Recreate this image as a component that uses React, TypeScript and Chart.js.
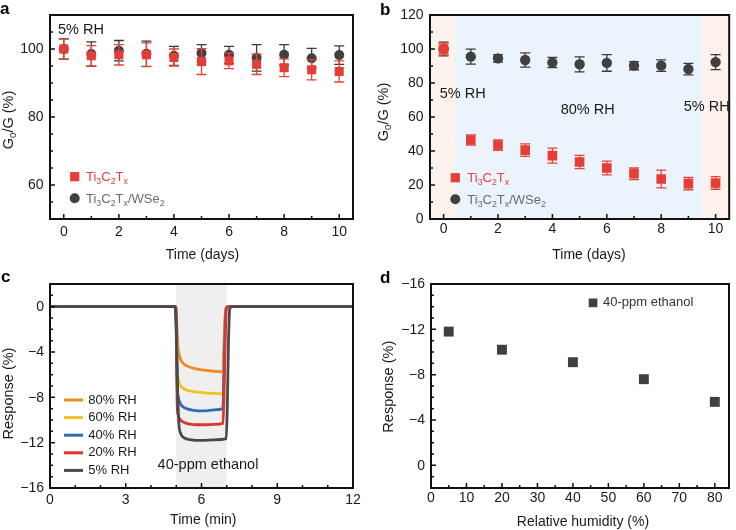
import React, { useEffect, useRef } from 'react';
import { Chart, registerables } from 'chart.js';

Chart.register(...registerables);

const FONT = '"Liberation Sans", Arial, Helvetica, sans-serif';
Chart.defaults.font.family = FONT;

// ---------- Panel a data (5% RH stability) ----------
const daysA = [0, 1, 2, 3, 4, 5, 6, 7, 8, 9, 10];
const tiA = [100, 98, 98.3, 98.3, 97.5, 96.3, 96.5, 95.5, 94.5, 93.9, 93.4];
const tiAErr = [3, 3, 3, 3.5, 2.5, 3.8, 2.3, 3, 2.6, 3, 3.1];
const wseA = [100, 98.5, 99.5, 98.6, 98, 98.8, 98.3, 97.4, 98.3, 97.3, 98.2];
const wseAErr = [3, 3.6, 3, 3.7, 2.8, 2.5, 2.5, 3.9, 3, 2.9, 2.7];

// ---------- Panel b data (80% RH stability) ----------
const daysB = [0, 1, 2, 3, 4, 5, 6, 7, 8, 9, 10];
const tiB = [100, 46.5, 43.5, 40.5, 37.3, 33.5, 30, 26.6, 23.5, 20.8, 21.2];
const tiBErr = [3.5, 3, 3.1, 3.7, 4.4, 3.9, 4.1, 3.4, 5.2, 3.6, 3.7];
const wseB = [100, 95.5, 94.5, 93.5, 92, 91, 91.8, 90.2, 90.2, 88.2, 92.3];
const wseBErr = [4, 4.4, 2.2, 4.2, 3, 4.4, 4.9, 2.4, 3.4, 3.4, 4.4];

// ---------- Panel c data (response traces, [time min, response %]) ----------
const trace80 = [[0, 0], [4.98, 0], [5.04, -2.5], [5.08, -3.8], [5.15, -4.5], [5.25, -4.95], [5.4, -5.2], [5.7, -5.45], [6.1, -5.6], [6.5, -5.7], [6.85, -5.75], [6.88, -4], [6.93, -1], [6.98, -0.1], [7.05, 0], [12, 0]];
const trace60 = [[0, 0], [4.98, 0], [5.04, -5.5], [5.08, -6.4], [5.15, -6.9], [5.25, -7.15], [5.4, -7.35], [5.7, -7.5], [6.1, -7.6], [6.5, -7.65], [6.85, -7.7], [6.88, -5.5], [6.93, -1.5], [6.98, -0.1], [7.05, 0], [12, 0]];
const trace40 = [[0, 0], [4.98, 0], [5.04, -7.2], [5.08, -8.0], [5.15, -8.5], [5.25, -8.8], [5.4, -9.0], [5.7, -9.15], [6.1, -9.2], [6.5, -9.1], [6.85, -9.0], [6.88, -6.5], [6.93, -2], [6.98, -0.1], [7.05, 0], [12, 0]];
const trace20 = [[0, 0], [4.98, 0], [5.04, -8.8], [5.08, -9.6], [5.15, -9.95], [5.25, -10.15], [5.4, -10.3], [5.7, -10.4], [6.1, -10.42], [6.5, -10.38], [6.85, -10.3], [6.9, -7], [6.95, -2], [7.0, -0.1], [7.07, 0], [12, 0]];
const trace5 = [[0, 0], [4.95, 0], [5.0, -2], [5.05, -7], [5.1, -10.2], [5.18, -11.2], [5.3, -11.55], [5.6, -11.75], [6.0, -11.8], [6.5, -11.75], [6.98, -11.65], [7.02, -9], [7.07, -3], [7.12, -0.2], [7.2, 0], [12, 0]];
const traceLabels = ['80% RH', '60% RH', '40% RH', '20% RH', '5% RH'];
const exposureWindow = [5, 7];

// ---------- Panel d data ----------
const humidity = [5, 20, 40, 60, 80];
const responseD = [-11.8, -10.2, -9.1, -7.6, -5.6];

// ---------- Tick values ----------
const ticksDaysMinor = [0, 1, 2, 3, 4, 5, 6, 7, 8, 9, 10];
const ticksDaysMajor = [0, 2, 4, 6, 8, 10];
const ticksAYMinor = [55, 60, 65, 70, 75, 80, 85, 90, 95, 100, 105];
const ticksAYMajor = [60, 80, 100];
const ticksBYMinor = [0, 10, 20, 30, 40, 50, 60, 70, 80, 90, 100, 110, 120];
const ticksBYMajor = [0, 20, 40, 60, 80, 100, 120];
const ticksCXMinor = [0, 1, 2, 3, 4, 5, 6, 7, 8, 9, 10, 11, 12];
const ticksCXMajor = [0, 3, 6, 9, 12];
const ticksRespMinor = [-16, -15, -14, -13, -12, -11, -10, -9, -8, -7, -6, -5, -4, -3, -2, -1, 0, 1];
const ticksRespMajor = [-16, -12, -8, -4, 0];
const ticksDXMinor = [0, 5, 10, 15, 20, 25, 30, 35, 40, 45, 50, 55, 60, 65, 70, 75, 80];
const ticksDXMajor = [0, 10, 20, 30, 40, 50, 60, 70, 80];

// ---------- Colours ----------
const RED = '#e53e36';
const GRAY = '#404040';
const C80 = '#ef8a1e';
const C60 = '#f2c124';
const C40 = '#2f6db5';
const C20 = '#e0352c';
const C5 = '#4a4a4a';
const TEXT = '#1a1a1a';

type Seg = { t: string; sub?: boolean };
const G0G: Seg[] = [{ t: 'G' }, { t: '0', sub: true }, { t: '/G (%)' }];
const TI: Seg[] = [{ t: 'Ti' }, { t: '3', sub: true }, { t: 'C' }, { t: '2', sub: true }, { t: 'T' }, { t: 'x', sub: true }];
const TIW: Seg[] = [...TI, { t: '/WSe' }, { t: '2', sub: true }];

function drawRich(ctx: CanvasRenderingContext2D, segs: Seg[], x: number, y: number, size: number, color: string, align: 'left' | 'center' | 'right', weight = '') {
  ctx.save();
  ctx.fillStyle = color;
  ctx.textBaseline = 'alphabetic';
  ctx.textAlign = 'left';
  const sub = size * 0.68;
  let w = 0;
  for (const s of segs) {
    ctx.font = `${weight} ${s.sub ? sub : size}px ${FONT}`;
    w += ctx.measureText(s.t).width;
  }
  let cx = align === 'center' ? x - w / 2 : align === 'right' ? x - w : x;
  const base = y + size * 0.36;
  for (const s of segs) {
    ctx.font = `${weight} ${s.sub ? sub : size}px ${FONT}`;
    ctx.fillText(s.t, cx, s.sub ? base + size * 0.22 : base);
    cx += ctx.measureText(s.t).width;
  }
  ctx.restore();
}

function drawRotated(ctx: CanvasRenderingContext2D, segs: Seg[], cx: number, cy: number, size: number) {
  ctx.save();
  ctx.translate(cx, cy);
  ctx.rotate(-Math.PI / 2);
  drawRich(ctx, segs, 0, 0, size, TEXT, 'center');
  ctx.restore();
}

const minus = (v: number) => (v < 0 ? '\u2212' + Math.abs(v) : String(v));

function axis(opts: { min: number; max: number; ticks: number[]; isX: boolean; size: number; reverse?: boolean }) {
  return {
    type: 'linear',
    min: opts.min,
    max: opts.max,
    reverse: !!opts.reverse,
    grid: { display: false },
    border: { display: false },
    title: { display: false },
    afterBuildTicks: (s: any) => {
      s.ticks = opts.ticks.map((v) => ({ value: v }));
    },
    afterFit: (s: any) => {
      if (opts.isX) s.height = opts.size;
      else s.width = opts.size;
    },
    ticks: { display: false, autoSkip: false },
  };
}

type ErrSpec = { x: number[]; y: number[]; e: number[]; color: string };

function decor(cfg: {
  xTicks: number[]; xMajor: number[]; yTicks: number[]; yMajor: number[];
  xLabelOffset: number; yLabelGap: number;
  bands?: { from: number; to: number; color: string }[];
  errors?: Record<number, ErrSpec>;
  extra?: (ctx: CanvasRenderingContext2D, chart: any) => void;
}) {
  return {
    id: 'decor',
    beforeDatasetsDraw(chart: any) {
      if (!cfg.bands) return;
      const { ctx, chartArea: a } = chart;
      const xs = chart.scales.x;
      ctx.save();
      ctx.beginPath();
      ctx.rect(a.left, a.top, a.right - a.left, a.bottom - a.top);
      ctx.clip();
      for (const b of cfg.bands) {
        const x1 = Math.max(a.left, xs.getPixelForValue(b.from));
        const x2 = Math.min(a.right, xs.getPixelForValue(b.to));
        ctx.fillStyle = b.color;
        ctx.fillRect(x1, a.top, x2 - x1, a.bottom - a.top);
      }
      ctx.restore();
    },
    beforeDatasetDraw(chart: any, args: any) {
      const spec = cfg.errors && cfg.errors[args.index];
      if (!spec) return;
      const { ctx } = chart;
      const xs = chart.scales.x;
      const ys = chart.scales.y;
      ctx.save();
      ctx.strokeStyle = spec.color;
      ctx.lineWidth = 1.3;
      for (let i = 0; i < spec.x.length; i++) {
        const px = xs.getPixelForValue(spec.x[i]);
        const y1 = ys.getPixelForValue(spec.y[i] - spec.e[i]);
        const y2 = ys.getPixelForValue(spec.y[i] + spec.e[i]);
        ctx.beginPath();
        ctx.moveTo(px, y1);
        ctx.lineTo(px, y2);
        ctx.moveTo(px - 5, y1);
        ctx.lineTo(px + 5, y1);
        ctx.moveTo(px - 5, y2);
        ctx.lineTo(px + 5, y2);
        ctx.stroke();
      }
      ctx.restore();
    },
    afterDraw(chart: any) {
      const { ctx, chartArea: a } = chart;
      const xs = chart.scales.x;
      const ys = chart.scales.y;
      ctx.save();
      ctx.strokeStyle = '#111';
      ctx.lineWidth = 1.5;
      ctx.beginPath();
      for (const v of cfg.xTicks) {
        const px = xs.getPixelForValue(v);
        if (px < a.left + 1.5 || px > a.right - 1.5) continue;
        const len = cfg.xMajor.includes(v) ? 5 : 3;
        ctx.moveTo(px, a.bottom);
        ctx.lineTo(px, a.bottom - len);
      }
      for (const v of cfg.yTicks) {
        const py = ys.getPixelForValue(v);
        if (py < a.top + 1.5 || py > a.bottom - 1.5) continue;
        const len = cfg.yMajor.includes(v) ? 5 : 3;
        ctx.moveTo(a.left, py);
        ctx.lineTo(a.left + len, py);
      }
      ctx.stroke();
      ctx.lineWidth = 2;
      ctx.strokeRect(a.left, a.top, a.right - a.left, a.bottom - a.top);
      // tick labels
      ctx.font = `14px ${FONT}`;
      ctx.fillStyle = TEXT;
      ctx.textBaseline = 'middle';
      ctx.textAlign = 'center';
      for (const v of cfg.xMajor) {
        ctx.fillText(minus(v), xs.getPixelForValue(v), a.bottom + cfg.xLabelOffset);
      }
      ctx.textAlign = 'right';
      for (const v of cfg.yMajor) {
        ctx.fillText(minus(v), a.left - cfg.yLabelGap, ys.getPixelForValue(v) + 0.5);
      }
      ctx.restore();
      if (cfg.extra) cfg.extra(ctx, chart);
    },
  };
}

function label(ctx: CanvasRenderingContext2D, text: string, x: number, y: number, size: number, color: string, align: CanvasTextAlign, weight = '') {
  ctx.save();
  ctx.font = `${weight} ${size}px ${FONT}`;
  ctx.fillStyle = color;
  ctx.textAlign = align;
  ctx.textBaseline = 'middle';
  ctx.fillText(text, x, y);
  ctx.restore();
}

function letter(ctx: CanvasRenderingContext2D, t: string, x: number, baseline: number) {
  ctx.save();
  ctx.font = `bold 17px ${FONT}`;
  ctx.fillStyle = '#000';
  ctx.textAlign = 'left';
  ctx.textBaseline = 'alphabetic';
  ctx.fillText(t, x, baseline);
  ctx.restore();
}

function baseOptions(pad: { top: number; right: number }, x: any, y: any) {
  return {
    responsive: false,
    maintainAspectRatio: false,
    animation: false,
    events: [],
    layout: { padding: { top: pad.top, right: pad.right, left: 0, bottom: 0 } },
    plugins: { legend: { display: false }, tooltip: { enabled: false } },
    scales: { x, y },
  };
}

function legendMarkers(ctx: CanvasRenderingContext2D, sx: number, sy: number, cy2: number, tx: number) {
  ctx.save();
  ctx.fillStyle = RED;
  ctx.fillRect(sx - 4.6, sy - 4.6, 9.2, 9.2);
  ctx.fillStyle = GRAY;
  ctx.beginPath();
  ctx.arc(sx, cy2, 5, 0, Math.PI * 2);
  ctx.fill();
  ctx.restore();
  drawRich(ctx, TI, tx, sy, 13, '#e8413a', 'left');
  drawRich(ctx, TIW, tx, cy2, 13, '#6b6b6b', 'left');
}

function buildA() {
  return {
    type: 'scatter',
    data: {
      datasets: [
        { data: daysA.map((d, i) => ({ x: d, y: tiA[i] })), pointStyle: 'rect', pointRadius: 6.4, backgroundColor: RED, borderWidth: 0 },
        { data: daysA.map((d, i) => ({ x: d, y: wseA[i] })), pointStyle: 'circle', pointRadius: 5, backgroundColor: GRAY, borderWidth: 0 },
      ],
    },
    options: baseOptions(
      { top: 15, right: 15 },
      axis({ min: -0.5, max: 10.5, ticks: ticksDaysMinor, isX: true, size: 46 }),
      axis({ min: 50, max: 110, ticks: ticksAYMinor, isX: false, size: 50 })
    ),
    plugins: [
      decor({
        xTicks: ticksDaysMinor, xMajor: ticksDaysMajor, yTicks: ticksAYMinor, yMajor: ticksAYMajor,
        xLabelOffset: 13, yLabelGap: 6.5,
        errors: {
          0: { x: daysA, y: tiA, e: tiAErr, color: '#e8413a' },
          1: { x: daysA, y: wseA, e: wseAErr, color: '#3a3a3a' },
        },
        extra: (ctx) => {
          letter(ctx, 'a', 0, 14);
          label(ctx, '5% RH', 58, 30, 14.5, TEXT, 'left');
          drawRotated(ctx, G0G, 8, 120, 14.5);
          label(ctx, 'Time (days)', 202.5, 255, 14, TEXT, 'center');
          legendMarkers(ctx, 74.7, 176.7, 198.3, 86);
        },
      }),
    ],
  };
}

function buildB() {
  return {
    type: 'scatter',
    data: {
      datasets: [
        { data: daysB.map((d, i) => ({ x: d, y: tiB[i] })), pointStyle: 'rect', pointRadius: 6.8, backgroundColor: RED, borderWidth: 0 },
        { data: daysB.map((d, i) => ({ x: d, y: wseB[i] })), pointStyle: 'circle', pointRadius: 5.2, backgroundColor: GRAY, borderWidth: 0 },
      ],
    },
    options: baseOptions(
      { top: 15, right: 2 },
      axis({ min: -0.5, max: 10.5, ticks: ticksDaysMinor, isX: true, size: 46 }),
      axis({ min: 0, max: 120, ticks: ticksBYMinor, isX: false, size: 62 })
    ),
    plugins: [
      decor({
        xTicks: ticksDaysMinor, xMajor: ticksDaysMajor, yTicks: ticksBYMinor, yMajor: ticksBYMajor,
        xLabelOffset: 10.5, yLabelGap: 6.5,
        bands: [
          { from: -0.5, to: 0.4, color: '#fef3ec' },
          { from: 0.4, to: 9.5, color: '#ebf4fc' },
          { from: 9.5, to: 10.5, color: '#fef3ec' },
        ],
        errors: {
          0: { x: daysB, y: tiB, e: tiBErr, color: '#e8413a' },
          1: { x: daysB, y: wseB, e: wseBErr, color: '#3a3a3a' },
        },
        extra: (ctx) => {
          letter(ctx, 'b', 12, 15);
          label(ctx, '5% RH', 71.7, 94.3, 14.5, TEXT, 'left');
          label(ctx, '80% RH', 219.7, 110, 14.5, TEXT, 'center');
          label(ctx, '5% RH', 361.7, 106.7, 14.5, TEXT, 'right');
          drawRotated(ctx, G0G, 14.5, 112, 14.5);
          label(ctx, 'Time (days)', 221, 255, 14, TEXT, 'center');
          legendMarkers(ctx, 87.3, 177.7, 199.3, 99.3);
        },
      }),
    ],
  };
}

function lineSet(tr: number[][], color: string) {
  return {
    data: tr.map(([x, y]) => ({ x, y })),
    showLine: true,
    pointRadius: 0,
    borderColor: color,
    backgroundColor: color,
    borderWidth: 2.8,
    cubicInterpolationMode: 'monotone',
    borderJoinStyle: 'round',
    borderCapStyle: 'round',
  };
}

function buildC() {
  const colors = [C80, C60, C40, C20, C5];
  return {
    type: 'scatter',
    data: {
      // index 0 is drawn on top
      datasets: [lineSet(trace5, C5), lineSet(trace20, C20), lineSet(trace40, C40), lineSet(trace60, C60), lineSet(trace80, C80)],
    },
    options: baseOptions(
      { top: 19, right: 15 },
      axis({ min: 0, max: 12, ticks: ticksCXMinor, isX: true, size: 42 }),
      axis({ min: -16, max: 2, ticks: ticksRespMinor, isX: false, size: 50 })
    ),
    plugins: [
      decor({
        xTicks: ticksCXMinor, xMajor: ticksCXMajor, yTicks: ticksRespMinor, yMajor: ticksRespMajor,
        xLabelOffset: 12.5, yLabelGap: 6,
        bands: [{ from: exposureWindow[0], to: exposureWindow[1], color: '#efefef' }],
        extra: (ctx) => {
          letter(ctx, 'c', 1, 17);
          drawRotated(ctx, [{ t: 'Response (%)' }], 7.5, 128.5, 14.5);
          label(ctx, 'Time (min)', 203.3, 255, 14, TEXT, 'center');
          label(ctx, '40-ppm ethanol', 208, 200, 14.5, TEXT, 'center');
          const rows = [135, 152.6, 170.2, 187.8, 205.4];
          rows.forEach((ry, i) => {
            ctx.save();
            ctx.strokeStyle = colors[i];
            ctx.lineWidth = 3;
            ctx.beginPath();
            ctx.moveTo(64, ry);
            ctx.lineTo(83, ry);
            ctx.stroke();
            ctx.restore();
            label(ctx, traceLabels[i], 88.3, ry, 13, TEXT, 'left');
          });
        },
      }),
    ],
  };
}

function buildD() {
  return {
    type: 'scatter',
    data: {
      datasets: [
        { data: humidity.map((h, i) => ({ x: h, y: responseD[i] })), pointStyle: 'rect', pointRadius: 7, backgroundColor: GRAY, borderWidth: 0 },
      ],
    },
    options: baseOptions(
      { top: 19, right: 6 },
      axis({ min: 0, max: 84, ticks: ticksDXMinor, isX: true, size: 42 }),
      axis({ min: -16, max: 2, ticks: ticksRespMinor, isX: false, size: 63, reverse: true })
    ),
    plugins: [
      decor({
        xTicks: ticksDXMinor, xMajor: ticksDXMajor, yTicks: ticksRespMinor, yMajor: ticksRespMajor,
        xLabelOffset: 10, yLabelGap: 6,
        extra: (ctx) => {
          letter(ctx, 'd', 12, 18.3);
          drawRotated(ctx, [{ t: 'Response (%)' }], 20, 121.7, 14.5);
          label(ctx, 'Relative humidity (%)', 215, 256.7, 14, TEXT, 'center');
          ctx.save();
          ctx.fillStyle = GRAY;
          ctx.fillRect(220.7, 33.5, 8.7, 8.7);
          ctx.restore();
          label(ctx, '40-ppm ethanol', 235, 37.8, 13, '#333', 'left');
        },
      }),
    ],
  };
}

function Panel({ left, top, build }: { left: number; top: number; build: () => any }) {
  const ref = useRef<HTMLCanvasElement>(null);
  useEffect(() => {
    const chart = new Chart(ref.current as HTMLCanvasElement, build());
    return () => chart.destroy();
  }, [build]);
  return (
    <canvas
      ref={ref}
      width={368}
      height={265}
      style={{ position: 'absolute', left, top, width: 368, height: 265 }}
    />
  );
}

export default function App() {
  return (
    <div style={{ position: 'absolute', left: 0, top: 0, width: 736, height: 530, background: '#fff', overflow: 'hidden' }}>
      <Panel left={0} top={0} build={buildA} />
      <Panel left={368} top={0} build={buildB} />
      <Panel left={0} top={265} build={buildC} />
      <Panel left={368} top={265} build={buildD} />
    </div>
  );
}
